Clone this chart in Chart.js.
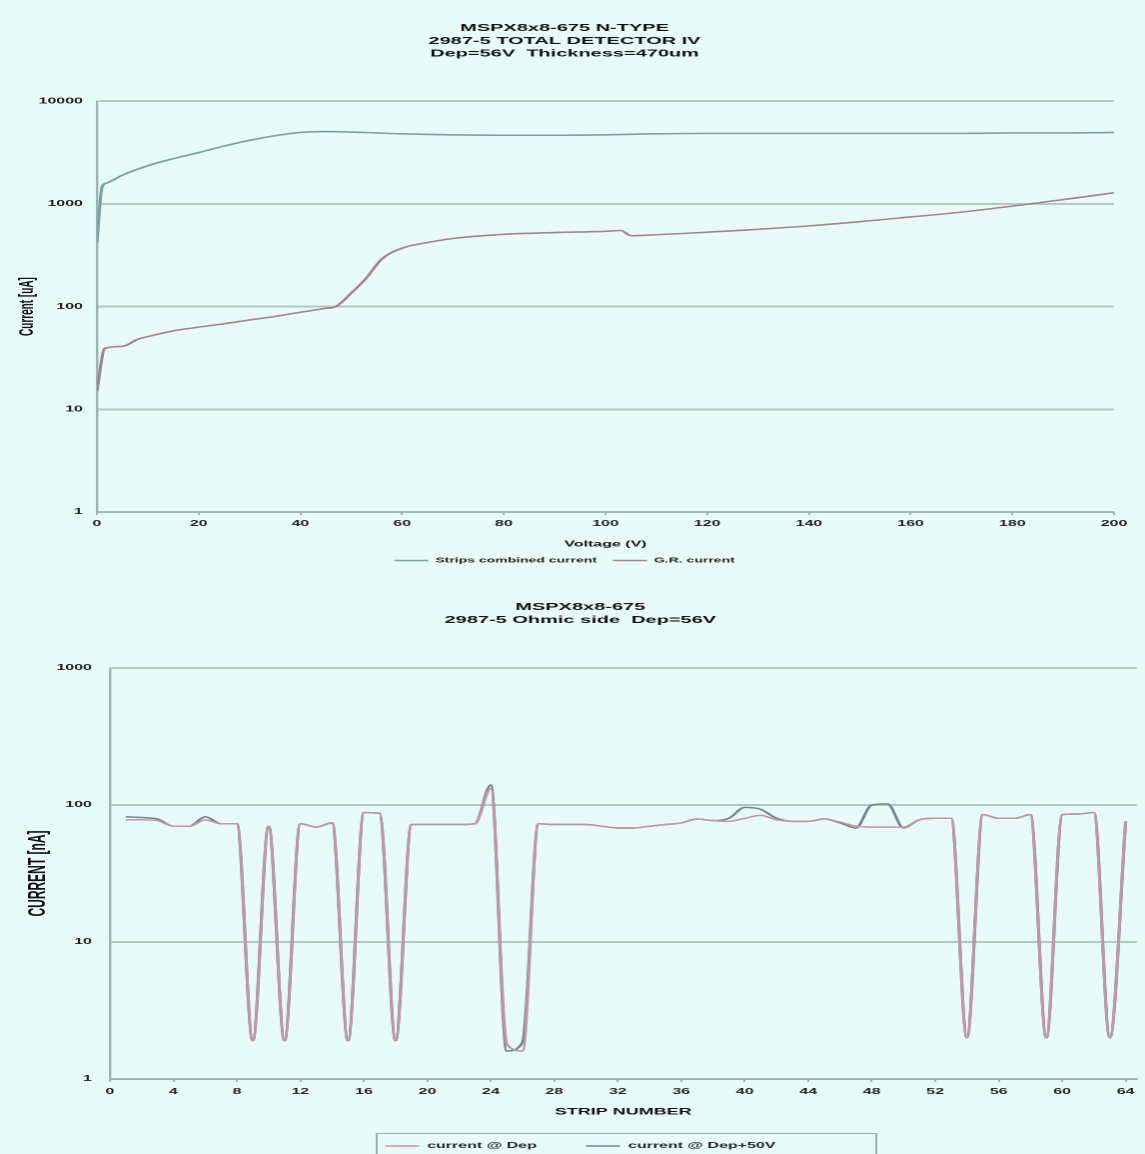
<!DOCTYPE html>
<html><head><meta charset="utf-8">
<script src="https://cdn.jsdelivr.net/npm/chart.js@4/dist/chart.umd.min.js"></script>
<style>
html,body{margin:0;padding:0;background:#e8fbfb;overflow:hidden;width:1145px;height:1154px;}
.wrap{position:absolute;left:0;transform-origin:0 0;transform:scaleX(1.9983);}
#w1{top:0;} #w2{top:580px;}
canvas{display:block;}
</style></head><body>
<div class="wrap" id="w1"><canvas id="c1" width="573" height="580"></canvas></div>
<div class="wrap" id="w2"><canvas id="c2" width="573" height="581"></canvas></div>
<script>
// ---------- Top chart data ----------
const topTitle = ['MSPX8x8-675 N-TYPE', '2987-5 TOTAL DETECTOR IV', 'Dep=56V  Thickness=470um'];
const voltsStrips = [0,1,2,5,10,15,20,25,30,35,40,45,50,55,60,70,80,90,100,110,120,130,140,150,160,170,180,190,200];
const stripsCurrent = [420,1450,1600,1900,2350,2750,3150,3650,4150,4600,4950,5050,5000,4900,4800,4700,4650,4650,4700,4800,4850,4850,4850,4850,4850,4850,4900,4900,4950];
const voltsGR = [0,1.5,5,8,10,15,20,25,30,35,40,45,47,50,53,56,60,65,70,80,90,100,103,105,110,120,130,140,150,160,170,180,190,200];
const grCurrent = [15,39,41,48,51,58,63,68,74,80,88,96,100,135,190,290,370,420,460,505,525,540,550,490,500,530,565,610,670,745,830,950,1100,1280];
const topXTicks = [0,20,40,60,80,100,120,140,160,180,200];
const topYTicks = [1,10,100,1000,10000];

// ---------- Bottom chart data ----------
const bottomTitle = ['MSPX8x8-675', '2987-5 Ohmic side  Dep=56V'];
const stripNumbers = [1,2,3,4,5,6,7,8,9,10,11,12,13,14,15,16,17,18,19,20,21,22,23,24,25,26,27,28,29,30,31,32,33,34,35,36,37,38,39,40,41,42,43,44,45,46,47,48,49,50,51,52,53,54,55,56,57,58,59,60,61,62,63,64];
const currentDep = [
 78,78,77,70,70,78,73,73,1.9,70,
 1.9,73,69,74,1.9,88,87,1.9,72,72,
 72,72,73,132,1.8,1.6,73,72,72,72,
 70,68,68,70,72,74,79,77,76,80,
 84,78,76,76,79,75,70,69,69,69,
 78,80,80,2.0,85,80,80,85,2.0,85,
 86,88,2.0,76];
const currentDep50 = [
 82,81,79,70,70,82,73,73,1.9,70,
 1.9,73,69,74,1.9,88,87,1.9,72,72,
 72,72,73,140,1.6,1.85,73,72,72,72,
 70,68,68,70,72,74,79,77,80,96,
 93,80,76,76,79,74,68,100,102,68,
 78,80,80,2.0,85,80,80,85,2.0,85,
 86,88,2.0,76];
const bottomXTicks = [0,4,8,12,16,20,24,28,32,36,40,44,48,52,56,60,64];
const bottomYTicks = [1,10,100,1000];

const FONT = "'Liberation Sans', Arial, sans-serif";
const GRID = '#b1c9c5';
const AXIS = '#9db3b3';

function pts(xs, ys){ return xs.map((x,i)=>({x:x, y:ys[i]})); }

new Chart(document.getElementById('c1'), {
  type: 'line',
  data: { datasets: [
    { label: 'Strips combined current', data: pts(voltsStrips, stripsCurrent), borderColor: '#78a0a6', backgroundColor: '#78a0a6', borderWidth: 1.6, pointRadius: 0, cubicInterpolationMode: 'monotone', fill: false },
    { label: 'G.R. current', data: pts(voltsGR, grCurrent), borderColor: '#a48290', backgroundColor: '#d9a8b8', borderWidth: 1.6, pointRadius: 0, cubicInterpolationMode: 'monotone', fill: false }
  ]},
  options: {
    responsive: false, animation: false, devicePixelRatio: 2,
    layout: { padding: { left: 7.5, right: 15.5, top: 0, bottom: 6 } },
    plugins: {
      title: { display: true, text: topTitle, color: '#111', font: { family: FONT, size: 10, weight: 'bold', lineHeight: 1.27 }, padding: { top: 22, bottom: 41 } },
      legend: { position: 'bottom', labels: { usePointStyle: true, pointStyle: 'line', pointStyleWidth: 17, boxHeight: 7, padding: 8, color: '#222', font: { family: FONT, size: 7, weight: 'bold' } } },
      tooltip: { enabled: false }
    },
    scales: {
      x: { type: 'linear', min: 0, max: 200,
        afterBuildTicks: s => { s.ticks = topXTicks.map(v => ({ value: v })); },
        afterFit: s => { s.height = 37; },
        grid: { drawOnChartArea: false, drawTicks: true, tickLength: 3, color: AXIS },
        border: { color: AXIS, width: 1.5 },
        ticks: { padding: 4, color: '#222', maxRotation: 0, autoSkip: false, font: { family: FONT, size: 8, weight: 'bold' } },
        title: { display: true, text: 'Voltage (V)', color: '#111', font: { family: FONT, size: 8, weight: 'bold' }, padding: { top: 0, bottom: 0 } } },
      y: { type: 'logarithmic', min: 1, max: 10000,
        afterBuildTicks: s => { s.ticks = topYTicks.map(v => ({ value: v })); },
        afterFit: s => { s.width = 41; },
        grid: { color: GRID, lineWidth: 2, drawTicks: false },
        border: { color: AXIS, width: 1.2 },
        ticks: { padding: 7, color: '#222', font: { family: FONT, size: 8, weight: 'bold' }, callback: v => String(v) },
        title: { display: true, text: 'Current [uA]', color: '#111', font: { family: FONT, size: 10, weight: 'bold' }, padding: { top: 0, bottom: 0 } } }
    }
  }
});

const legendBox = {
  id: 'legendBox',
  afterDraw(chart) {
    const ctx = chart.ctx;
    ctx.save();
    ctx.strokeStyle = '#8c9c9c';
    ctx.lineWidth = 0.8;
    ctx.strokeRect(188.5, 553.5, 250, 40);
    ctx.restore();
  }
};

new Chart(document.getElementById('c2'), {
  type: 'line',
  data: { datasets: [
    { label: 'current @ Dep', data: pts(stripNumbers, currentDep), borderColor: '#c295a5', backgroundColor: '#c295a5', borderWidth: 1.5, pointRadius: 0, cubicInterpolationMode: 'monotone', fill: false },
    { label: 'current @ Dep+50V', data: pts(stripNumbers, currentDep50), borderColor: '#6f8594', backgroundColor: '#6f8594', borderWidth: 1.5, pointRadius: 0, cubicInterpolationMode: 'monotone', fill: false }
  ]},
  options: {
    responsive: false, animation: false, devicePixelRatio: 2,
    layout: { padding: { left: 11.8, right: 4, top: 0, bottom: 1 } },
    plugins: {
      title: { display: true, text: bottomTitle, color: '#111', font: { family: FONT, size: 10, weight: 'bold', lineHeight: 1.3 }, padding: { top: 20.5, bottom: 41.5 } },
      legend: { position: 'bottom', labels: { usePointStyle: true, pointStyle: 'line', pointStyleWidth: 17, boxHeight: 8, padding: 24.6, color: '#222', font: { family: FONT, size: 8, weight: 'bold' } } },
      tooltip: { enabled: false }
    },
    scales: {
      x: { type: 'linear', min: 0, max: 64.7,
        afterBuildTicks: s => { s.ticks = bottomXTicks.map(v => ({ value: v })); },
        afterFit: s => { s.height = 38.4; },
        grid: { drawOnChartArea: false, drawTicks: true, tickLength: 3, color: AXIS },
        border: { color: AXIS, width: 1.5 },
        ticks: { padding: 5.2, color: '#222', maxRotation: 0, autoSkip: false, font: { family: FONT, size: 8, weight: 'bold' } },
        title: { display: true, text: 'STRIP NUMBER', color: '#111', font: { family: FONT, size: 9, weight: 'bold' }, padding: { top: 0, bottom: 0 } } },
      y: { type: 'logarithmic', min: 1, max: 1000,
        afterBuildTicks: s => { s.ticks = bottomYTicks.map(v => ({ value: v })); },
        afterFit: s => { s.width = 43.2; },
        grid: { color: GRID, lineWidth: 2, drawTicks: false },
        border: { color: AXIS, width: 1.2 },
        ticks: { padding: 9, color: '#222', font: { family: FONT, size: 8, weight: 'bold' }, callback: v => String(v) },
        title: { display: true, text: 'CURRENT [nA]', color: '#111', font: { family: FONT, size: 12, weight: 'bold' }, padding: { top: 0, bottom: 0 } } }
    }
  },
  plugins: [legendBox]
});
</script>
</body></html>
